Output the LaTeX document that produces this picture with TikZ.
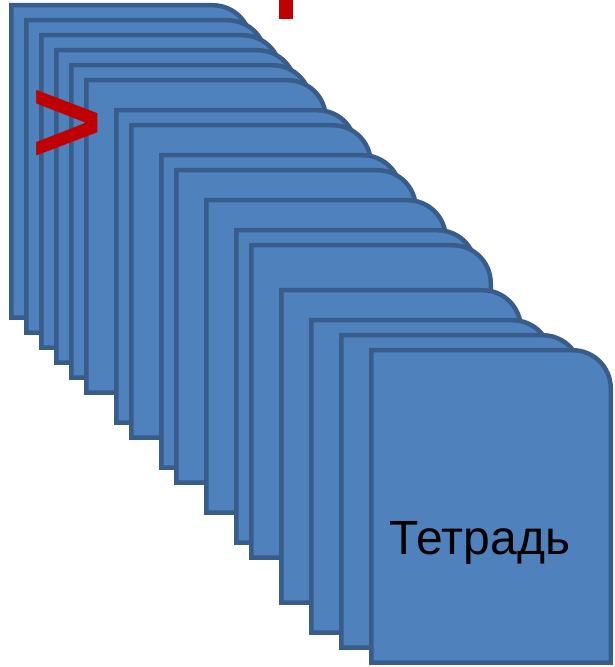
\documentclass[tikz,border=0pt]{standalone}
\usepackage{fontspec}
\setmainfont{Liberation Sans}
\definecolor{cardfill}{HTML}{4F81BD}
\definecolor{cardline}{HTML}{385D8A}
\definecolor{markred}{HTML}{C00000}
\tikzset{
  card/.style={fill=cardfill, draw=cardline, line width=4.5pt, line join=miter},
}
\begin{document}
\begin{tikzpicture}[x=1pt,y=1pt]
\useasboundingbox (0,0) rectangle (615,667);
\foreach \l/\t in {9/3,24/18,39/33,54/48,69/63,84/78,114/108,129/123,159/153,174/168,204/198,234/228,249/243,279/288,309/318,339/333,369/348}{
  \draw[card] ({\l+2.25},{667-\t-314.75}) -- ({\l+2.25},{667-\t-2.25}) -- ({\l+241.75-38},{667-\t-2.25})
    arc[start angle=90,end angle=0,radius=38pt] -- ({\l+241.75},{667-\t-314.75}) -- cycle;
}
\fill[markred] (279,667) rectangle (293,648);
\node[anchor=base, inner sep=0pt, text=markred, font=\bfseries\fontsize{122}{130}\selectfont] (gt) at (67.5,{667-164}) {>};
\node[anchor=base, inner sep=0pt, font=\fontsize{48}{58}\selectfont] (label) at (480,{667-555}) {Тетрадь};
\end{tikzpicture}
\end{document}
